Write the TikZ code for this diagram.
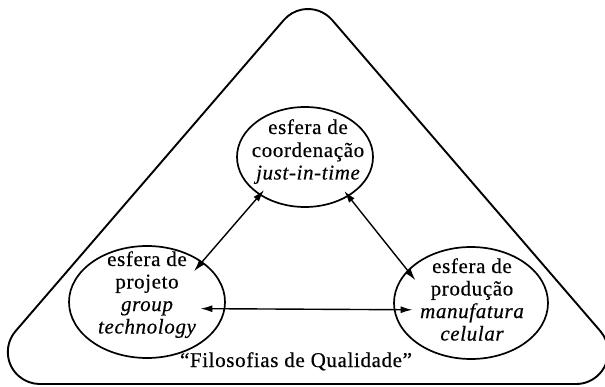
\documentclass[tikz,border=0pt]{standalone}
\usepackage{fontspec}
\setmainfont{Liberation Serif}[LetterSpace=3,FakeBold=0.4]
\usetikzlibrary{arrows.meta,shapes.geometric}
\begin{document}
\begin{tikzpicture}[x=1pt,y=1pt,
  tri/.style={line width=1.9pt, line join=round},
  sphere/.style={draw, ellipse, line width=1.7pt, inner sep=0pt, outer sep=0pt},
  lbl/.style={anchor=base, inner sep=0pt, font=\fontsize{21}{22}\selectfont},
  conn/.style={line width=1.4pt, {Latex[length=12pt,width=7pt]}-{Latex[length=12pt,width=7pt]}}]
\useasboundingbox[fill=white] (0,0) rectangle (605,386);
% outer rounded triangle
\draw[tri] (39.9,2) -- (576.1,2)
  arc[start angle=-90, end angle=40.8, radius=32pt]
  -- (332.2,365.9)
  arc[start angle=40.8, end angle=139.2, radius=32pt]
  -- (15.6,54.9)
  arc[start angle=139.2, end angle=270, radius=32pt] -- cycle;
% spheres
\node[sphere, minimum width=136pt, minimum height=100pt] (top) at (305,229) {};
\node[sphere, minimum width=156pt, minimum height=112pt] (left) at (147,84) {};
\node[sphere, minimum width=154pt, minimum height=112pt] (right) at (471,83) {};
% texts
\node[lbl] (t1) at (308,252) {esfera de};
\node[lbl] (t2) at (308,229) {coordenação};
\node[lbl] (t3) at (308,206.5) {\itshape just-in-time};
\node[lbl] (l1) at (147,120) {esfera de};
\node[lbl] (l2) at (147,97.5) {projeto};
\node[lbl] (l3) at (147,75) {\itshape group};
\node[lbl] (l4) at (147,52.5) {\itshape technology};
\node[lbl] (r1) at (472,113) {esfera de};
\node[lbl] (r2) at (472,90.5) {produção};
\node[lbl] (r3) at (472,68) {\itshape manufatura};
\node[lbl] (r4) at (472,45.5) {\itshape celular};
\node[lbl] (fq) at (296,19) {“Filosofias de Qualidade”};
% connectors
\draw[conn, shorten <=-6pt, shorten >=-12pt] (top.220) -- (left.36);
\draw[conn, shorten <=-6pt, shorten >=-12pt] (top.318) -- (right.153);
\draw[conn, shorten <=-24pt, shorten >=-18pt] (left.-5) -- (right.185);
\end{tikzpicture}
\end{document}
